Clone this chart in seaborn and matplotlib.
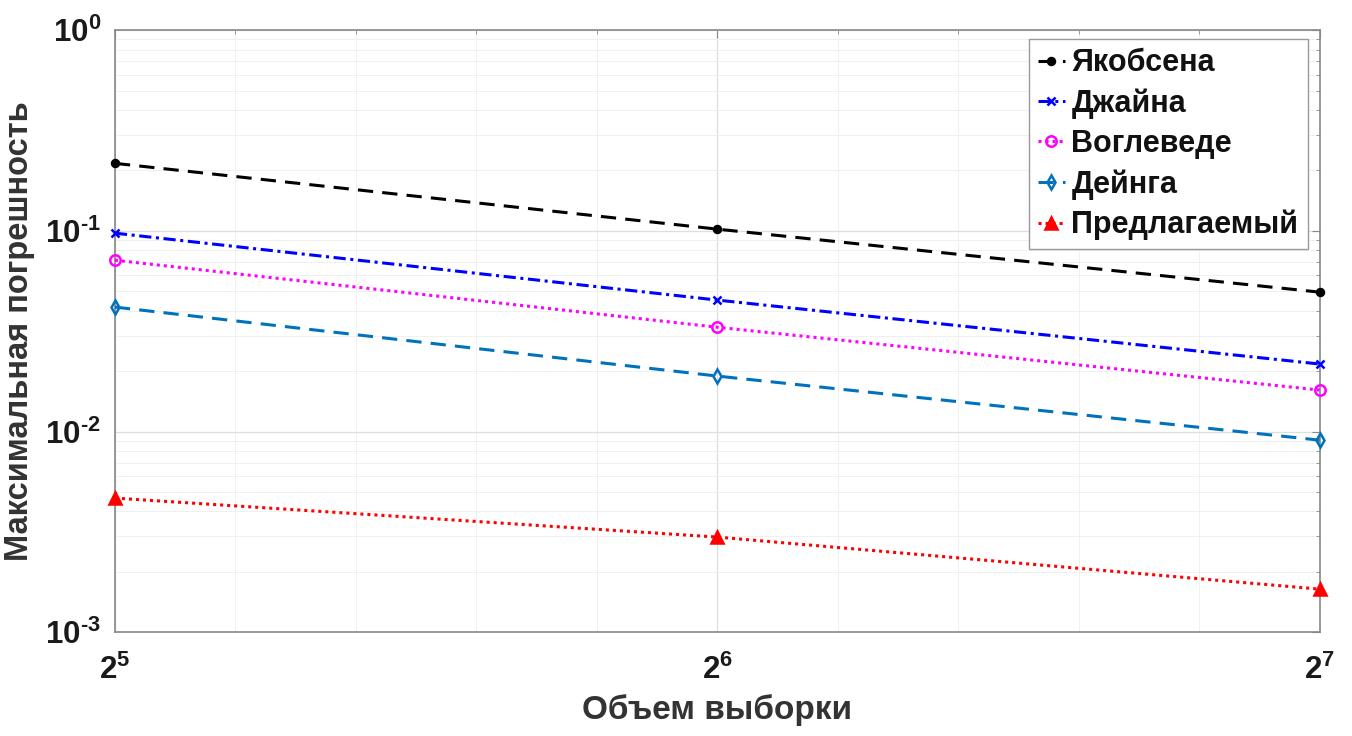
import numpy as np
import pandas as pd
import matplotlib
matplotlib.use('Agg')
import matplotlib.pyplot as plt
import seaborn as sns
from matplotlib.ticker import FixedLocator, FuncFormatter, LogLocator, NullFormatter

# данные
sizes = [32, 64, 128]
jacobsen = [0.217, 0.102, 0.0495]
jain = [0.0974, 0.0452, 0.0217]
voglewede = [0.0714, 0.0331, 0.0161]
deng = [0.0417, 0.0189, 0.00906]
proposed = [0.00466, 0.00298, 0.00164]

names = ['Якобсена', 'Джайна', 'Воглеведе', 'Дейнга', 'Предлагаемый']
series = [jacobsen, jain, voglewede, deng, proposed]

sns.set_style('white')
plt.rcParams['font.family'] = ['Liberation Sans', 'DejaVu Sans']
plt.rcParams['font.weight'] = 'bold'
plt.rcParams['mathtext.fontset'] = 'custom'
plt.rcParams['mathtext.rm'] = 'Liberation Sans:bold'
plt.rcParams['mathtext.it'] = 'Liberation Sans:bold'
plt.rcParams['mathtext.bf'] = 'Liberation Sans:bold'

colors = ['black', '#0000ff', '#ff00ff', '#0072bd', '#ff0000']
styles = [(0, (5, 3)), (0, (4, 1.5, 1, 1.5)), (0, (1, 1.3)), (0, (5, 3)), (0, (1, 1.3))]
markers = ['.', 'x', 'o', 'd', '^']
mfaces = ['black', '#0000ff', 'none', 'none', '#ff0000']
msizes = [10, 6, 7.5, 7.5, 8.5]

fig = plt.figure(figsize=(13.52, 7.36), dpi=100)
ax = fig.add_axes([0.085, 0.141, 0.891, 0.818])

for i in range(len(names)):
    df = pd.DataFrame({'x': sizes, 'y': series[i]})
    sns.lineplot(data=df, x='x', y='y', ax=ax, color=colors[i], linestyle=styles[i],
                 marker=markers[i], markerfacecolor=mfaces[i], markeredgecolor=colors[i],
                 markersize=msizes[i], markeredgewidth=1.8, linewidth=2.2, label=names[i],
                 clip_on=False, zorder=3)

ax.set_xscale('log', base=2)
ax.set_yscale('log')
ax.set_xlim(32, 128)
ax.set_ylim(1e-3, 1)


def ylab(v, p):
    e = round(np.log10(v))
    s = str(abs(e))
    if e < 0:
        s = '\u2010' + s
    return r'$10^{%s}$' % s


ax.xaxis.set_major_locator(FixedLocator([32, 64, 128]))
ax.xaxis.set_major_formatter(FuncFormatter(lambda v, p: r'$2^{%d}$' % round(np.log2(v))))
xminor = [2 ** (5 + k / 5) for k in range(1, 10) if k != 5]
ax.xaxis.set_minor_locator(FixedLocator(xminor))
ax.xaxis.set_minor_formatter(NullFormatter())

ax.yaxis.set_major_locator(FixedLocator([1e-3, 1e-2, 1e-1, 1]))
ax.yaxis.set_major_formatter(FuncFormatter(ylab))
ax.yaxis.set_minor_locator(LogLocator(base=10, subs=np.arange(2, 10)))
ax.yaxis.set_minor_formatter(NullFormatter())

ax.grid(True, which='major', color='#dedede', linewidth=0.9)
ax.grid(True, which='minor', color='#f0f0f0', linewidth=0.7)
ax.tick_params(which='both', direction='in', top=True, right=True, color='#888888',
               labelsize=22.5, labelcolor='#1a1a1a')
ax.tick_params(which='major', length=6)
ax.tick_params(which='minor', length=3)
ax.tick_params(axis='x', pad=16)
ax.tick_params(axis='y', pad=10)
for sp in ax.spines.values():
    sp.set_color('#888888')
    sp.set_linewidth(1.2)

ax.set_xlabel('Объем выборки', fontsize=24, fontweight='bold', color='#333333', labelpad=6)
ax.set_ylabel('Максимальная погрешность', fontsize=23.5, fontweight='bold', color='#333333')
ax.yaxis.set_label_coords(-0.066, 0.5)

leg = ax.legend(loc='upper right', fontsize=22, handlelength=0.9, handletextpad=0.2,
                borderpad=0.3, labelspacing=0.33, fancybox=False, framealpha=1,
                edgecolor='#999999', bbox_to_anchor=(0.99, 0.985), borderaxespad=0)
leg.get_frame().set_linewidth(1.0)
for t in leg.get_texts():
    t.set_fontweight('bold')
    t.set_color('#111111')

fig.savefig('out.png', dpi=100)
